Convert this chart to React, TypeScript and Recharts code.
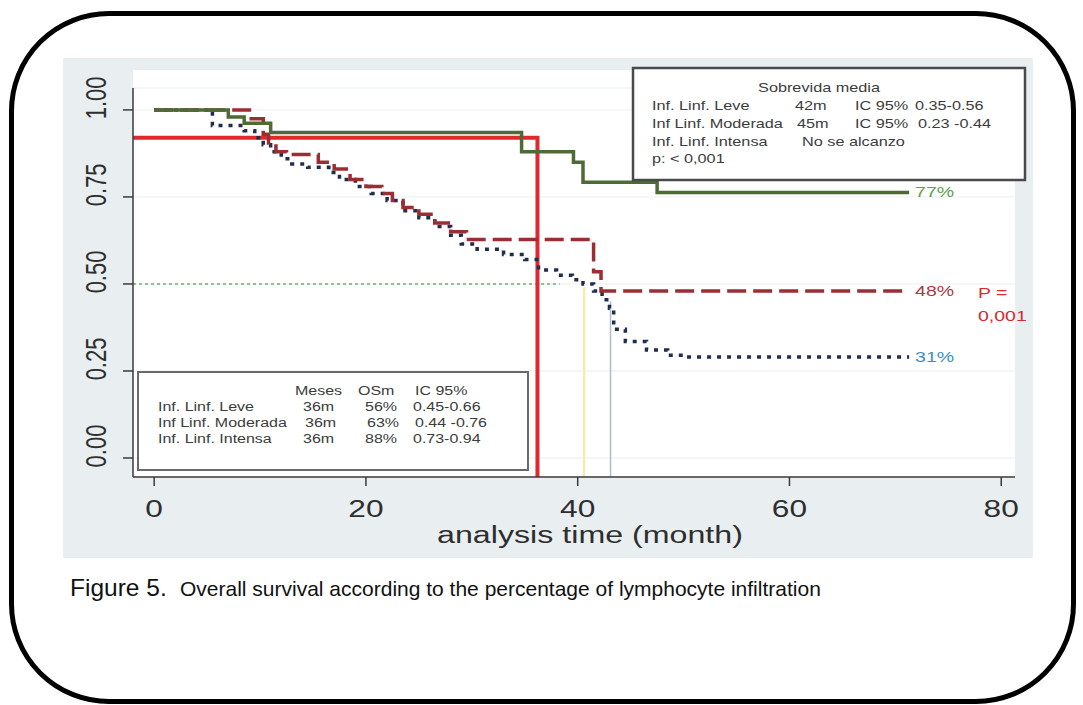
import React from 'react';
import { LineChart, Line, XAxis, YAxis, CartesianGrid, ReferenceLine, ReferenceDot } from 'recharts';

// ---- axis ticks ----
const xTicks = [0, 20, 40, 60, 80];
const yTicks = [0, 0.25, 0.5, 0.75, 1];
const yTickLabels = ['0.00', '0.25', '0.50', '0.75', '1.00'];

// ---- Kaplan-Meier curves (months, survival) ----
const intensaX = [0, 7, 8.5, 11, 34.7, 39.6, 40.5, 47.5, 71.3];
const intensaY = [1.0, 0.98, 0.962, 0.935, 0.88, 0.85, 0.792, 0.763, 0.763];

const moderadaX = [0, 9, 10.3, 10.8, 11.5, 12.5, 15.5, 17, 18.5, 20, 21.5, 22.5, 23.5, 25, 26.5, 28, 29.5, 41.5, 42.2, 71.3];
const moderadaY = [1.0, 0.975, 0.93, 0.905, 0.88, 0.872, 0.85, 0.83, 0.8, 0.78, 0.76, 0.74, 0.72, 0.7, 0.675, 0.65, 0.628, 0.535, 0.48, 0.48];

const leveX = [0, 5.5, 8.5, 9.5, 10.3, 11, 12, 13, 14.5, 16.5, 17.5, 19, 20.5, 22, 23.5, 25, 26.5, 28, 29, 30.5, 33, 35, 36.3, 38, 39.5, 40.5, 41.5, 42.3, 43, 43.4, 44.5, 46.5, 48.5, 50, 71.3];
const leveY = [1.0, 0.955, 0.94, 0.92, 0.9, 0.88, 0.86, 0.845, 0.835, 0.82, 0.8, 0.78, 0.76, 0.74, 0.71, 0.69, 0.665, 0.64, 0.615, 0.6, 0.585, 0.57, 0.54, 0.525, 0.512, 0.5, 0.48, 0.455, 0.43, 0.37, 0.335, 0.31, 0.295, 0.29, 0.29];

// 36-month marker (red) and median markers
const marker36X = [-2, 36.2, 36.2];
const marker36Y = [0.92, 0.92, -0.0546];
const medianLeve = 40.6;
const medianModerada = 43.1;
const halfLevelEnd = 38.3;

// end labels
const endLabels = ['77%', '48%', '31%'];

// legend tables
const box1Title = 'Sobrevida media';
const box1Rows = [
  ['Inf. Linf. Leve', '42m', 'IC 95%', '0.35-0.56'],
  ['Inf Linf. Moderada', '45m', 'IC 95%', '0.23 -0.44'],
  ['Inf. Linf. Intensa', 'No se alcanzo', '', ''],
  ['p: < 0,001', '', '', ''],
];
const box2Header = ['Meses', 'OSm', 'IC 95%'];
const box2Rows = [
  ['Inf. Linf. Leve', '36m', '56%', '0.45-0.66'],
  ['Inf Linf. Moderada', '36m', '63%', '0.44 -0.76'],
  ['Inf. Linf. Intensa', '36m', '88%', '0.73-0.94'],
];

const toData = (xs: number[], ys: number[]) => xs.map((x, i) => ({ x, y: ys[i] }));

const FONT = '"Liberation Sans", Arial, Helvetica, sans-serif';

const T = ({ x, y, size, fill = '#333', anchor = 'start', sx = 1.3, children }: any) => (
  <text
    transform={`translate(${x},${y}) scale(${sx},1)`}
    x={0}
    y={0}
    fontSize={size}
    fill={fill}
    textAnchor={anchor}
    fontFamily={FONT}
  >
    {children}
  </text>
);

const XTick = (props: any) => {
  const { x, payload } = props;
  return (
    <T x={x} y={517} size={24} sx={1.32} anchor="middle" fill="#2e2e2e">
      {payload.value}
    </T>
  );
};

const YTick = (props: any) => {
  const { y, payload } = props;
  const idx = yTicks.indexOf(payload.value);
  return (
    <g transform={`translate(96,${y - 12}) scale(1.3,1) rotate(-90)`}>
      <text x={0} y={0} dy="0.36em" textAnchor="middle" fontSize={22} fill="#2e2e2e" fontFamily={FONT}>
        {yTickLabels[idx]}
      </text>
    </g>
  );
};

const endLabel = (text: string, color: string) => (props: any) => {
  const vb = props.viewBox || {};
  return (
    <T x={vb.x + 6} y={vb.y + 5} size={15} fill={color}>
      {text}
    </T>
  );
};

export default function App() {
  const intensa = toData(intensaX, intensaY);
  const moderada = toData(moderadaX, moderadaY);
  const leve = toData(leveX, leveY);
  const marker36 = toData(marker36X, marker36Y);
  const last = (a: number[]) => a[a.length - 1];

  const b1Cols = [652, 795, 855, 915];
  const b1ColsRow2 = [652, 797, 855, 918];
  const b1Rows = [110, 128, 146, 163];
  const b2Cols = [158, 303, 365, 413];
  const b2Rows = [411, 427, 443];

  return (
    <div style={{ position: 'absolute', left: 0, top: 0, width: 1083, height: 705, background: '#fff', overflow: 'hidden' }}>
      {/* grey graph region */}
      <div style={{ position: 'absolute', left: 63, top: 58, width: 970, height: 500, background: '#e9eef1' }} />
      {/* white plot region */}
      <div style={{ position: 'absolute', left: 133, top: 70, width: 882, height: 407, background: '#fff' }} />

      <LineChart
        width={1083}
        height={705}
        margin={{ top: 88, right: 68, bottom: 158, left: 73 }}
        style={{ position: 'absolute', left: 0, top: 0 }}
      >
        <CartesianGrid horizontal vertical={false} stroke="#eaeff2" strokeWidth={1} />
        <XAxis
          type="number"
          dataKey="x"
          domain={[-2, 81.3]}
          ticks={xTicks}
          allowDataOverflow
          height={70}
          tickSize={9}
          tick={<XTick />}
          axisLine={{ stroke: '#3a3a3a', strokeWidth: 1.5 }}
          tickLine={{ stroke: '#3a3a3a', strokeWidth: 1.5 }}
        />
        <YAxis
          type="number"
          dataKey="y"
          domain={[-0.0546, 1.063]}
          ticks={yTicks}
          allowDataOverflow
          width={60}
          tickSize={10}
          tick={<YTick />}
          axisLine={{ stroke: '#3a3a3a', strokeWidth: 1.5 }}
          tickLine={{ stroke: '#3a3a3a', strokeWidth: 1.5 }}
        />

        <ReferenceLine
          segment={[{ x: -2, y: 0.5 }, { x: halfLevelEnd, y: 0.5 }]}
          stroke="#8dc28d"
          strokeWidth={2}
          strokeDasharray="3 3"
        />
        <ReferenceLine
          segment={[{ x: medianLeve, y: -0.0546 }, { x: medianLeve, y: 0.49 }]}
          stroke="#f4ecae"
          strokeWidth={2.5}
        />
        <ReferenceLine
          segment={[{ x: medianModerada, y: -0.0546 }, { x: medianModerada, y: 0.45 }]}
          stroke="#aebccb"
          strokeWidth={1.5}
        />

        <Line
          data={marker36}
          dataKey="y"
          type="linear"
          stroke="#e2272e"
          strokeWidth={4}
          dot={false}
          isAnimationActive={false}
        />
        <Line
          data={leve}
          dataKey="y"
          type="stepAfter"
          stroke="#1f2e4d"
          strokeWidth={3.5}
          strokeDasharray="4 6"
          dot={false}
          isAnimationActive={false}
        />
        <Line
          data={moderada}
          dataKey="y"
          type="stepAfter"
          stroke="#9b2e33"
          strokeWidth={3.5}
          strokeDasharray="19 7"
          dot={false}
          isAnimationActive={false}
        />
        <Line
          data={intensa}
          dataKey="y"
          type="stepAfter"
          stroke="#4d6a37"
          strokeWidth={3.5}
          dot={false}
          isAnimationActive={false}
        />

        <ReferenceDot x={last(intensaX)} y={last(intensaY)} r={0} fill="none" stroke="none" label={{ content: endLabel(endLabels[0], '#5d9f4c') }} />
        <ReferenceDot x={last(moderadaX)} y={last(moderadaY)} r={0} fill="none" stroke="none" label={{ content: endLabel(endLabels[1], '#b2373c') }} />
        <ReferenceDot x={last(leveX)} y={last(leveY)} r={0} fill="none" stroke="none" label={{ content: endLabel(endLabels[2], '#3a8fc4') }} />
      </LineChart>

      <svg width={1083} height={705} style={{ position: 'absolute', left: 0, top: 0, pointerEvents: 'none' }}>
        {/* axis title */}
        <T x={590} y={543} size={23} sx={1.4} anchor="middle" fill="#2e2e2e">analysis time (month)</T>

        {/* p value */}
        <T x={978} y={298} size={15} fill="#d62a30">P =</T>
        <T x={978} y={321} size={15} fill="#d62a30">0,001</T>

        {/* legend box 1 */}
        <rect x={633} y={68} width={392} height={112} fill="#fff" stroke="#4a4a4a" strokeWidth={2.5} />
        <T x={819} y={92} size={13} sx={1.25} anchor="middle" fill="#3c3c3c">{box1Title}</T>
        {box1Rows.map((row, r) =>
          row.map((cell, c) => {
            if (!cell) return null;
            let cx = (r === 1 ? b1ColsRow2 : b1Cols)[c];
            if (r === 2 && c === 1) cx = 802;
            return (
              <T key={`b1-${r}-${c}`} x={cx} y={b1Rows[r]} size={13} sx={1.25} fill="#3c3c3c">{cell}</T>
            );
          })
        )}

        {/* legend box 2 */}
        <rect x={138} y={372} width={390} height={98} fill="#fff" stroke="#6a6a6a" strokeWidth={2} />
        {box2Header.map((h, i) => (
          <T key={`h-${i}`} x={[295, 358, 415][i]} y={395} size={12.5} sx={1.28} fill="#3c3c3c">{h}</T>
        ))}
        {box2Rows.map((row, r) =>
          row.map((cell, c) => (
            <T key={`b2-${r}-${c}`} x={b2Cols[c] + (r === 1 && c > 0 ? 2 : 0)} y={b2Rows[r]} size={12.5} sx={1.28} fill="#3c3c3c">{cell}</T>
          ))
        )}

        {/* caption */}
        <text x={70} y={596} fontSize={24.5} fill="#111" fontFamily={FONT}>Figure 5.</text>
        <text x={180} y={596} fontSize={21} fill="#111" fontFamily={FONT}>
          Overall survival according to the percentage of lymphocyte infiltration
        </text>
      </svg>

      {/* rounded frame */}
      <div
        style={{
          position: 'absolute',
          left: 9,
          top: 11,
          width: 1067,
          height: 693,
          boxSizing: 'border-box',
          border: '5px solid #000',
          borderRadius: 100,
          pointerEvents: 'none',
        }}
      />
    </div>
  );
}
